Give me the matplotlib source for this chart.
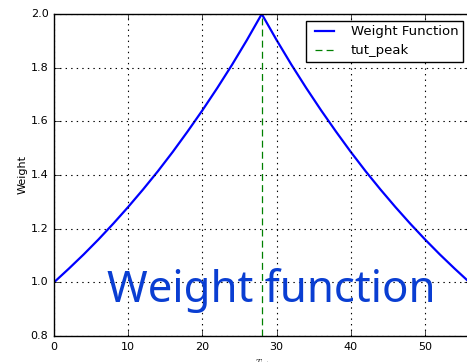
import numpy as np
import matplotlib
matplotlib.use("Agg")
import matplotlib.pyplot as plt

# weight readings along the tut axis
t_tut = [0, 2, 4, 6, 8, 10, 12, 14, 16, 18, 20, 22, 24, 26, 28,
         30, 32, 34, 36, 38, 40, 42, 44, 46, 48, 50, 52, 54, 56]
weight = [1.000, 1.051, 1.104, 1.160, 1.219, 1.281, 1.346, 1.414, 1.486, 1.562, 1.641, 1.724, 1.811, 1.903, 2.000,
          1.903, 1.811, 1.724, 1.641, 1.562, 1.486, 1.414, 1.346, 1.281, 1.219, 1.160, 1.104, 1.051, 1.000]
tut_peak = 28

plt.style.use("classic")
fig = plt.figure(figsize=(4.67, 3.62), dpi=100)
fig.patch.set_facecolor("white")
ax = fig.add_axes([54 / 467, 26 / 362, 415.5 / 467, 322 / 362])

ax.plot(t_tut, weight, color="blue", lw=1.6, label="Weight Function")
ax.axvline(tut_peak, color="green", ls="--", lw=0.9, dashes=(5, 3), label="tut_peak")

ax.set_xlim(0, 56)
ax.set_ylim(0.8, 2.0)
ax.set_xticks([0, 10, 20, 30, 40, 50])
ax.set_yticks([0.8, 1.0, 1.2, 1.4, 1.6, 1.8, 2.0])
ax.tick_params(labelsize=8, length=4)
ax.grid(True, color="black", ls=":", lw=0.8)

ax.set_ylabel("Weight", fontsize=8, labelpad=2)
ax.set_xlabel("$T_{tut}$", fontsize=6, labelpad=4)

ax.legend(loc="upper right", fontsize=9.5, frameon=True, fancybox=False,
          borderaxespad=0.5, handlelength=2.0, handletextpad=1.0,
          labelspacing=0.45, borderpad=0.35)

ax.text(7.1, 0.925, "Weight function", color="#0a3ed2", fontsize=31.5,
        family=["Noto Sans", "DejaVu Sans"], ha="left", va="baseline")

fig.savefig("out.png", dpi=100, facecolor="white")
